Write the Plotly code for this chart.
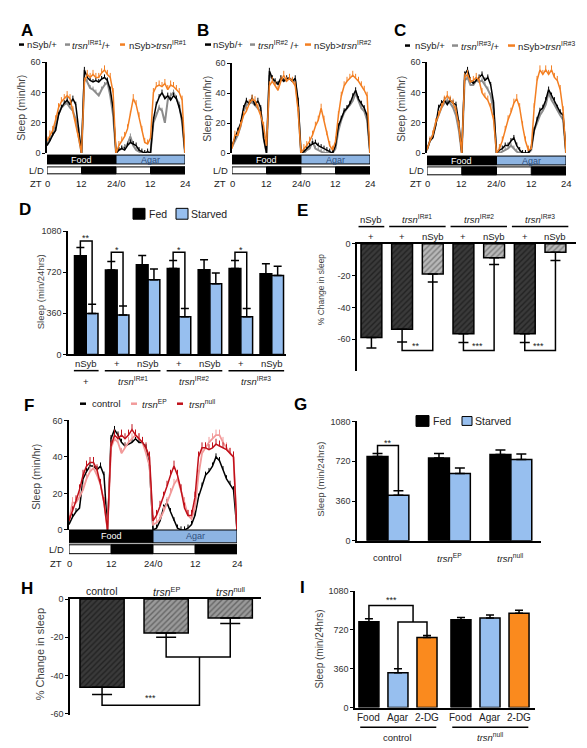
import plotly.graph_objects as go

W, H = 587, 748
FONT = "Liberation Sans"
BLUE = "#97BFEF"
AGAR = "#8DB4E2"
ORANGE = "#F37F22"
ORANGE2 = "#FA8A1E"
GRAY = "#8C8C8C"
PINK = "#F29A9A"
DRED = "#C0101A"

# ---------------- data ----------------
ZT = list(range(49))
ZT_TICKS = [0, 12, 24, 36, 48]
ZT_LABELS = ["0", "12", "24/0", "12", "24"]

A_nsyb = [5, 8, 12, 15, 25, 30, 33, 35, 32, 36, 32, 15, 0,
          55, 50, 48, 47, 48, 47, 49, 50, 48, 42, 30, 0,
          2, 3, 2, 5, 7, 6, 5, 2, 1, 0, 1, 0,
          22, 32, 37, 40, 36, 38, 35, 38, 36, 30, 22, 0]
A_trsn = [6, 10, 12, 18, 26, 30, 32, 33, 30, 28, 22, 12, 0,
          50, 47, 43, 42, 40, 38, 42, 45, 47, 38, 25, 0,
          2, 3, 4, 6, 11, 5, 2, 1, 0, 0, 0, 0,
          20, 25, 30, 28, 20, 35, 38, 40, 36, 32, 20, 0]
A_kd = [8, 12, 15, 22, 30, 34, 36, 38, 36, 28, 20, 10, 0,
        47, 52, 50, 52, 50, 50, 53, 55, 52, 50, 40, 0,
        5, 8, 11, 16, 25, 36, 32, 24, 15, 7, 6, 10,
        40, 44, 45, 44, 46, 42, 45, 44, 42, 40, 35, 0]

B_nsyb = [5, 10, 15, 20, 30, 35, 33, 37, 32, 35, 30, 10, 0,
          55, 50, 48, 46, 50, 48, 50, 50, 48, 50, 35, 0,
          1, 3, 5, 6, 7, 5, 4, 3, 2, 1, 0, 5,
          18, 23, 28, 30, 33, 38, 42, 36, 33, 30, 25, 0]
B_trsn = [4, 8, 12, 18, 28, 32, 33, 34, 32, 30, 28, 10, 0,
          52, 50, 47, 46, 50, 48, 49, 50, 48, 48, 32, 0,
          0, 2, 3, 8, 3, 2, 1, 0, 0, 0, 0, 3,
          15, 22, 27, 30, 32, 35, 40, 35, 30, 28, 22, 0]
B_kd = [3, 12, 12, 18, 25, 28, 33, 36, 35, 30, 25, 18, 5,
        45, 48, 45, 42, 48, 52, 48, 50, 48, 45, 28, 0,
        3, 5, 8, 12, 18, 22, 30, 22, 12, 5, 2, 8,
        25, 38, 45, 48, 50, 52, 50, 48, 45, 42, 38, 0]

C_nsyb = [2, 8, 10, 18, 30, 33, 35, 32, 35, 33, 32, 20, 0,
          52, 55, 48, 46, 48, 50, 52, 48, 50, 45, 33, 0,
          2, 3, 5, 5, 8, 10, 5, 2, 0, 0, 0, 3,
          15, 22, 28, 30, 35, 42, 38, 35, 30, 27, 25, 0]
C_trsn = [2, 8, 12, 20, 25, 30, 33, 35, 33, 30, 25, 15, 0,
          48, 50, 45, 45, 48, 47, 48, 45, 42, 38, 28, 0,
          0, 1, 2, 3, 5, 3, 1, 0, 0, 0, 0, 2,
          15, 20, 25, 28, 32, 40, 35, 32, 28, 25, 22, 0]
C_kd = [2, 8, 12, 20, 25, 30, 35, 38, 35, 33, 28, 18, 0,
        50, 52, 47, 48, 50, 48, 40, 37, 35, 30, 22, 0,
        3, 8, 15, 22, 27, 33, 36, 30, 18, 8, 2, 3,
        30, 48, 55, 52, 55, 52, 55, 50, 48, 42, 28, 0]

F_control = [3, 7, 10, 12, 28, 32, 35, 35, 33, 35, 30, 0, 50,
             55, 52, 48, 46, 47, 48, 50, 48, 48, 45, 35, 0,
             1, 5, 12, 15, 10, 5, 1, 0, 0, 1, 3, 8,
             18, 24, 30, 32, 35, 40, 38, 33, 28, 25, 22, 0]
F_ep = [5, 15, 15, 18, 22, 28, 32, 34, 30, 25, 15, 0, 45,
        50, 48, 42, 45, 48, 50, 52, 50, 48, 42, 35, 3,
        4, 6, 10, 15, 20, 25, 28, 22, 15, 8, 6, 12,
        30, 42, 45, 48, 50, 52, 52, 48, 45, 42, 40, 0]
F_null = [5, 10, 16, 22, 30, 35, 37, 37, 33, 25, 15, 0, 46,
          52, 50, 52, 50, 52, 55, 52, 50, 48, 45, 40, 5,
          8, 13, 18, 24, 30, 35, 30, 22, 12, 8, 8, 18,
          40, 45, 45, 44, 45, 47, 46, 45, 44, 42, 40, 0]

# D: sleep fed vs starved (min/24hrs)
D_row1 = ["nSyb", "+", "nSyb", "+", "nSyb", "+", "nSyb"]
D_row2 = ["+", "<i>trsn</i><sup>IR#1</sup>", "<i>trsn</i><sup>IR#2</sup>", "<i>trsn</i><sup>IR#3</sup>"]
D_groups = [(0, 0), (1, 2), (3, 4), (5, 6)]
D_fed = [863, 739, 785, 751, 742, 751, 705]
D_fed_err = [72, 75, 81, 72, 87, 72, 89]
D_starved = [358, 344, 653, 329, 618, 329, 690]
D_starved_err = [81, 80, 95, 72, 95, 72, 81]
D_sig_idx = [0, 1, 3, 5]
D_sig_lab = ["**", "*", "*", "*"]
D_sig_level = [993, 895, 895, 895]

# E: % change in sleep
E_top = ["nSyb", "<i>trsn</i><sup>IR#1</sup>", "<i>trsn</i><sup>IR#2</sup>", "<i>trsn</i><sup>IR#3</sup>"]
E_row2 = ["+", "+", "nSyb", "+", "nSyb", "+", "nSyb"]
E_vals = [-58.8, -53.6, -18.9, -56.5, -8.7, -56.5, -5.2]
E_err = [6.6, 8.1, 5.0, 5.5, 4.2, 5.5, 5.2]
E_pairs = [(1, 2), (3, 4), (5, 6)]
E_sig_lab = ["**", "***", "***"]
E_sig_level = -67

# G
G_geno = ["control", "<i>trsn</i><sup>EP</sup>", "<i>trsn</i><sup>null</sup>"]
G_fed = [764, 749, 782]
G_fed_err = [26, 41, 41]
G_starved = [412, 609, 737]
G_starved_err = [41, 50, 48]

# H
H_geno = ["control", "<i>trsn</i><sup>EP</sup>", "<i>trsn</i><sup>null</sup>"]
H_vals = [-46.2, -17.8, -9.9]
H_err = [3.8, 2.2, 2.9]

# I
I_cond = ["Food", "Agar", "2-DG"]
I_geno = ["control", "<i>trsn</i><sup>null</sup>"]
I_control = [796, 323, 650]
I_control_err = [28, 37, 18]
I_null = [814, 832, 875]
I_null_err = [22, 28, 28]


# ---------------- helpers ----------------
def X(px):
    return px / W


def Y(py):
    return 1 - py / H


fig = go.Figure()
shapes, annos = [], []
layout = dict(width=W, height=H, margin=dict(l=0, r=0, t=0, b=0),
              paper_bgcolor="white", plot_bgcolor="rgba(0,0,0,0)",
              showlegend=False, barmode="overlay",
              font=dict(family=FONT, size=9, color="#222"))


def sfx(n):
    return "" if n == 1 else str(n)


def ax(n, xpx, ypx, xr, yr, ytv, ytt=None, xline=None):
    s = sfx(n)
    layout["xaxis" + s] = dict(domain=[X(xpx[0]), X(xpx[1])], range=xr, anchor="y" + s,
                               showgrid=False, zeroline=False, showticklabels=False, ticks="",
                               showline=xline is not None, side=xline or "bottom",
                               linecolor="black", linewidth=1.5, fixedrange=True)
    layout["yaxis" + s] = dict(domain=[Y(ypx[1]), Y(ypx[0])], range=yr, anchor="x" + s,
                               showgrid=False, zeroline=False, showline=True,
                               linecolor="black", linewidth=1.5, ticks="outside",
                               ticklen=3, tickwidth=1, tickcolor="black",
                               tickvals=ytv, ticktext=ytt if ytt else [str(v) for v in ytv],
                               tickfont=dict(size=9, color="#333"), fixedrange=True)


def txt(x, y, t, size=9, color="#222", xref="paper", yref="paper",
        xanchor="center", yanchor="middle", angle=0, family=FONT):
    annos.append(dict(x=x, y=y, xref=xref, yref=yref, text=t, showarrow=False,
                      font=dict(size=size, color=color, family=family),
                      xanchor=xanchor, yanchor=yanchor, textangle=angle, borderpad=0))


def hline(x0, x1, y, xref="paper", yref="paper", color="black", width=1.5):
    shapes.append(dict(type="line", x0=x0, x1=x1, y0=y, y1=y, xref=xref, yref=yref,
                       line=dict(color=color, width=width)))


def bracket(xref, yref, x0, y0, x1, y1, ytop):
    shapes.append(dict(type="path", xref=xref, yref=yref,
                       path=f"M {x0},{y0} L {x0},{ytop} L {x1},{ytop} L {x1},{y1}",
                       line=dict(color="black", width=1.5)))


def letter(px, py, t):
    txt(X(px), Y(py), f"<b>{t}</b>", size=17, color="black", family="Liberation Sans")


def ytitle(px, py, t, size=9.5):
    txt(X(px), Y(py), t, size=size, color="#444", angle=-90)


def legend_items(py, items):
    for d0, d1, tx, t, c in items:
        hline(X(d0), X(d1), Y(py), color=c, width=2.5)
        txt(X(tx), Y(py), t, size=9.5, color="#222", xanchor="left")


def ts_panel(n, xpx, ypx, series, food, ld, zt_y, lab_x):
    s = sfx(n)
    ax(n, xpx, ypx, [0, 48], [0, 60], [0, 20, 40, 60])
    for y, c, e, w in series:
        fig.add_trace(go.Scatter(x=ZT, y=y, mode="lines", line=dict(color=c, width=w),
                                 error_y=dict(type="constant", value=e, valueminus=0,
                                              symmetric=False, color=c, thickness=1, width=0),
                                 xaxis="x" + s, yaxis="y" + s, cliponaxis=False,
                                 hoverinfo="skip"))
    xr = "x" + s
    shapes.append(dict(type="rect", xref=xr, yref="paper", x0=0, x1=24, y0=Y(food[1]), y1=Y(food[0]),
                       fillcolor="black", line=dict(color="black", width=1)))
    shapes.append(dict(type="rect", xref=xr, yref="paper", x0=24, x1=48, y0=Y(food[1]), y1=Y(food[0]),
                       fillcolor=AGAR, line=dict(color="black", width=1)))
    fm = (food[0] + food[1]) / 2
    txt(12, Y(fm), "Food", size=9, color="white", xref=xr)
    txt(36, Y(fm), "Agar", size=9, color="#2F4F7F", xref=xr)
    shapes.append(dict(type="rect", xref=xr, yref="paper", x0=0, x1=48, y0=Y(ld[1]), y1=Y(ld[0]),
                       fillcolor="white", line=dict(color="black", width=1)))
    for a, b in [(12, 24), (36, 48)]:
        shapes.append(dict(type="rect", xref=xr, yref="paper", x0=a, x1=b, y0=Y(ld[1]), y1=Y(ld[0]),
                           fillcolor="black", line=dict(color="black", width=1)))
    txt(X(lab_x), Y((ld[0] + ld[1]) / 2), "L/D", size=9.5, color="#222")
    txt(X(lab_x), Y(zt_y), "ZT", size=9.5, color="#222")
    for v, t in zip(ZT_TICKS, ZT_LABELS):
        txt(v, Y(zt_y), t, size=9.5, color="#222", xref=xr)


# ---------------- A, B, C ----------------
ts_panel(1, (39, 177), (50, 142),
         [(A_trsn, GRAY, 2, 2), (A_nsyb, "black", 2, 1.5), (A_kd, ORANGE, 3, 1.5)],
         (144, 153), (156, 163), 173, 28)
letter(19, 18, "A")
ytitle(13, 96, "Sleep (min/hr)", 10.5)
legend_items(32, [(11, 16, 18, "nSyb/+", "black"),
                  (57, 62, 63, "<i>trsn</i><sup>IR#1</sup>/+", GRAY),
                  (112, 117, 120, "nSyb&gt;<i>trsn</i><sup>IR#1</sup>", ORANGE)])

ts_panel(2, (224, 362), (51, 142),
         [(B_trsn, GRAY, 2, 2), (B_nsyb, "black", 2, 1.5), (B_kd, ORANGE, 3, 1.5)],
         (144, 153), (156, 163), 173, 212)
letter(195, 18, "B")
ytitle(199, 97, "Sleep (min/hr)", 10.5)
legend_items(32, [(197, 203, 204, "nSyb/+", "black"),
                  (242, 247, 249, "<i>trsn</i><sup>IR#2</sup> /+", GRAY),
                  (297, 303, 305, "nSyb&gt;<i>trsn</i><sup>IR#2</sup>", ORANGE)])

ts_panel(3, (419, 558), (50, 142),
         [(C_trsn, GRAY, 2, 2), (C_nsyb, "black", 2, 1.5), (C_kd, ORANGE, 3, 1.5)],
         (145, 154), (156, 164), 173, 408)
letter(392, 18, "C")
ytitle(393, 97, "Sleep (min/hr)", 10.5)
legend_items(33, [(397, 402, 406, "nSyb/+", "black"),
                  (444, 450, 452, "<i>trsn</i><sup>IR#3</sup>/+", GRAY),
                  (500, 507, 509, "nSyb&gt;<i>trsn</i><sup>IR#3</sup>", ORANGE)])

# ---------------- D ----------------
ax(4, (60, 278), (221, 346), [-0.59, 6.46], [0, 1080], [0, 360, 720, 1080], xline="bottom")
DW = 0.38
dx = list(range(len(D_fed)))
fig.add_trace(go.Bar(x=[i - DW / 2 for i in dx], y=D_fed, width=DW,
                     marker=dict(color="black", line=dict(color="black", width=1.5)),
                     error_y=dict(type="data", array=D_fed_err, arrayminus=[0] * 7, symmetric=False,
                                  color="black", thickness=1.5, width=4),
                     xaxis="x4", yaxis="y4", hoverinfo="skip"))
fig.add_trace(go.Bar(x=[i + DW / 2 for i in dx], y=D_starved, width=DW,
                     marker=dict(color=BLUE, line=dict(color="black", width=1.5)),
                     error_y=dict(type="data", array=D_starved_err, arrayminus=[0] * 7, symmetric=False,
                                  color="black", thickness=1.5, width=4),
                     xaxis="x4", yaxis="y4", hoverinfo="skip"))
for g, lab, lev in zip(D_sig_idx, D_sig_lab, D_sig_level):
    bracket("x4", "y4", g - DW / 2, D_fed[g] + D_fed_err[g], g + DW / 2,
            D_starved[g] + D_starved_err[g], lev)
    txt(g, lev + 22, lab, size=9, xref="x4", yref="y4")
for i, t in enumerate(D_row1):
    txt(i, Y(355), t, size=9.5, xref="x4")
for (a, b), t in zip(D_groups, D_row2):
    hline(a - 0.4, b + 0.4, Y(362.5), xref="x4")
    txt((a + b) / 2, Y(373), t, size=9.5, xref="x4")
letter(17, 199, "D")
ytitle(32, 283, "Sleep (min/24hrs)")
shapes.append(dict(type="rect", xref="paper", yref="paper", x0=X(125), x1=X(137), y0=Y(209), y1=Y(198),
                   fillcolor="black", line=dict(color="black", width=1)))
txt(X(140), Y(203.5), "Fed", size=10.5, xanchor="left")
shapes.append(dict(type="rect", xref="paper", yref="paper", x0=X(168), x1=X(180), y0=Y(209), y1=Y(198),
                   fillcolor=BLUE, line=dict(color="black", width=1)))
txt(X(182), Y(203.5), "Starved", size=10.5, xanchor="left")

# ---------------- E ----------------
ax(5, (349, 568), (234, 363), [-0.47, 6.67], [-80, 0], [0, -20, -40, -60],
   ["0", "-20", "-40", "-60"], xline="top")
EW = 0.68
for i, (v, e, lab) in enumerate(zip(E_vals, E_err, E_row2)):
    dark = lab == "+"
    fig.add_trace(go.Bar(x=[i], y=[v], width=EW,
                         marker=dict(color="#3A3A3A" if dark else "#B0B0B0",
                                     line=dict(color="black", width=1.5),
                                     pattern=dict(shape="/", bgcolor="#3A3A3A" if dark else "#B8B8B8",
                                                  fgcolor="#0A0A0A" if dark else "#404040",
                                                  size=4, solidity=0.35)),
                         error_y=dict(type="data", array=[0], arrayminus=[e], symmetric=False,
                                      color="black", thickness=1.5, width=5),
                         xaxis="x5", yaxis="y5", hoverinfo="skip"))
for (a, b), lab in zip(E_pairs, E_sig_lab):
    bracket("x5", "y5", a, E_vals[a] - E_err[a], b, E_vals[b] - E_err[b], E_sig_level)
    txt((a + b) / 2 - 0.05, E_sig_level + 2.6, lab, size=9, xref="x5", yref="y5")
for (a, b), t in zip(D_groups, E_top):
    txt((a + b) / 2, Y(209), t, size=9.5, xref="x5")
    hline(a - 0.42, b + 0.42, Y(216.5), xref="x5")
for i, t in enumerate(E_row2):
    txt(i, Y(227), t, size=9.5, xref="x5")
letter(295, 200, "E")
ytitle(313, 280, "% Change in sleep", 8.5)

# ---------------- F ----------------
ts_panel(6, (61, 229), (413, 524),
         [(F_control, "black", 2, 1.5), (F_ep, PINK, 3, 1.8), (F_null, DRED, 3, 1.5)],
         (524, 537), (539, 548), 558, 48)
letter(21, 398, "F")
ytitle(28, 470, "Sleep (min/hr)", 10.5)
legend_items(396, [(72, 78, 83, "control", "black"),
                   (123, 129, 133, "<i>trsn</i><sup>EP</sup>", PINK),
                   (169, 175, 180, "<i>trsn</i><sup>null</sup>", DRED)])

# ---------------- G ----------------
ax(7, (349, 533), (414, 535), [-0.504, 2.49], [0, 1080], [0, 360, 720, 1080], xline="bottom")
GW = 0.34
gx = list(range(len(G_fed)))
fig.add_trace(go.Bar(x=[i - GW / 2 for i in gx], y=G_fed, width=GW,
                     marker=dict(color="black", line=dict(color="black", width=1.5)),
                     error_y=dict(type="data", array=G_fed_err, arrayminus=[0] * 3, symmetric=False,
                                  color="black", thickness=1.5, width=5),
                     xaxis="x7", yaxis="y7", hoverinfo="skip"))
fig.add_trace(go.Bar(x=[i + GW / 2 for i in gx], y=G_starved, width=GW,
                     marker=dict(color=BLUE, line=dict(color="black", width=1.5)),
                     error_y=dict(type="data", array=G_starved_err, arrayminus=[0] * 3, symmetric=False,
                                  color="black", thickness=1.5, width=5),
                     xaxis="x7", yaxis="y7", hoverinfo="skip"))
bracket("x7", "y7", -GW / 2, G_fed[0] + G_fed_err[0], GW / 2, G_starved[0] + G_starved_err[0], 862)
txt(0, 885, "**", size=9, xref="x7", yref="y7")
for i, t in enumerate(G_geno):
    txt(i, Y(552), t, size=9.5, xref="x7")
letter(292, 397, "G")
ytitle(313, 473, "Sleep (min/24hrs)")
shapes.append(dict(type="rect", xref="paper", yref="paper", x0=X(408), x1=X(421), y0=Y(419), y1=Y(408),
                   fillcolor="black", line=dict(color="black", width=1)))
txt(X(424), Y(413.5), "Fed", size=10.5, xanchor="left")
shapes.append(dict(type="rect", xref="paper", yref="paper", x0=X(454), x1=X(464), y0=Y(418), y1=Y(409),
                   fillcolor=BLUE, line=dict(color="black", width=1)))
txt(X(466), Y(413.5), "Starved", size=10.5, xanchor="left")

# ---------------- H ----------------
ax(8, (62, 253), (594, 712), [-0.5, 2.48], [-61, 0], [0, -20, -40, -60],
   ["0", "-20", "-40", "-60"], xline="top")
HW = 0.69
for i, (v, e) in enumerate(zip(H_vals, H_err)):
    dark = i == 0
    fig.add_trace(go.Bar(x=[i], y=[v], width=HW,
                         marker=dict(color="#3A3A3A" if dark else "#8E8E8E",
                                     line=dict(color="black", width=1.5),
                                     pattern=dict(shape="/", bgcolor="#3A3A3A" if dark else "#9A9A9A",
                                                  fgcolor="#0A0A0A" if dark else "#303030",
                                                  size=4, solidity=0.35)),
                         error_y=dict(type="data", array=[0], arrayminus=[e], symmetric=False,
                                      color="black", thickness=1.5, width=10),
                         xaxis="x8", yaxis="y8", hoverinfo="skip"))
bracket("x8", "y8", 1, H_vals[1] - H_err[1], 2, H_vals[2] - H_err[2], -30.3)
bracket("x8", "y8", 1.52, -30.3, 0, H_vals[0] - H_err[0], -55.7)
txt(0.75, -51.8, "***", size=9, xref="x8", yref="y8")
for i, t in enumerate(H_geno):
    txt(i, Y(586), t, size=10.5, xref="x8")
letter(19, 583, "H")
ytitle(32, 650, "% Change in sleep", 11)

# ---------------- I ----------------
ax(9, (347, 527), (586, 704), [-0.48, 5.72], [0, 1080], [0, 360, 720, 1080], xline="bottom")
IW = 0.69
IGAP = 3.17
icol = ["black", BLUE, ORANGE2]
for gi, (vals, errs) in enumerate([(I_control, I_control_err), (I_null, I_null_err)]):
    for ci, (v, e) in enumerate(zip(vals, errs)):
        fig.add_trace(go.Bar(x=[gi * IGAP + ci], y=[v], width=IW,
                             marker=dict(color=icol[ci], line=dict(color="black", width=1.5)),
                             error_y=dict(type="data", array=[e], arrayminus=[0], symmetric=False,
                                          color="black", thickness=1.5, width=4),
                             xaxis="x9", yaxis="y9", hoverinfo="skip"))
        txt(gi * IGAP + ci, Y(714), I_cond[ci], size=10, xref="x9")
    hline(gi * IGAP - 0.3, gi * IGAP + 2.32, Y(724), xref="x9")
    txt(gi * IGAP + 1, Y(734), I_geno[gi], size=9.5, xref="x9")
bracket("x9", "y9", 1, I_control[1] + I_control_err[1], 2, I_control[2] + I_control_err[2], 793)
bracket("x9", "y9", 1.52, 793, 0, I_control[0] + I_control_err[0], 946)
txt(0.76, 1000, "***", size=9, xref="x9", yref="y9")
letter(295, 582, "I")
ytitle(311, 645, "Sleep (min/24hrs)", 10)

# bottom rule
hline(X(197), X(587), Y(746.5), color="#8A8A8A", width=1.5)

layout["shapes"] = shapes
layout["annotations"] = annos
fig.update_layout(**layout)
fig.write_html("out.html")
